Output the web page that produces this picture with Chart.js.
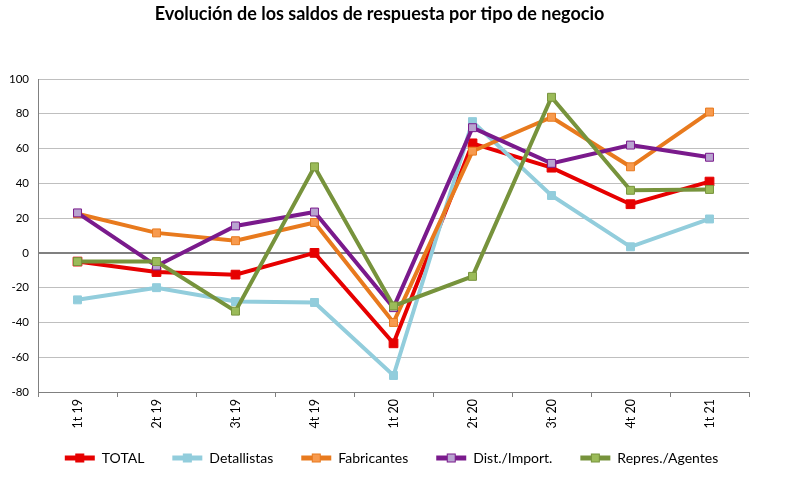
<!DOCTYPE html>
<html>
<head>
<meta charset="utf-8">
<script src="https://cdn.jsdelivr.net/npm/chart.js@4"></script>
<style>
  html, body { margin: 0; padding: 0; background: #ffffff; }
  #wrap { width: 800px; height: 499px; }
</style>
</head>
<body>
<div id="wrap"><canvas id="c" width="800" height="499"></canvas></div>
<script>
const categories = ["1t 19", "2t 19", "3t 19", "4t 19", "1t 20", "2t 20", "3t 20", "4t 20", "1t 21"];
const seriesNames = ["TOTAL", "Detallistas", "Fabricantes", "Dist./Import.", "Repres./Agentes"];
const total       = [-5, -11, -12.5, 0, -52, 63, 49, 28, 41];
const detallistas = [-27, -20, -28, -28.5, -70.5, 75.5, 33, 3.5, 19.5];
const fabricantes = [22.5, 11.5, 7, 17.5, -40, 58.5, 78, 49.5, 81];
const distImport  = [23, -7.5, 15.5, 23.5, -31.5, 72, 51.5, 62, 55];
const represAg    = [-5, -5, -33.5, 49.5, -30.5, -13.5, 89.5, 36, 36.5];
const yTicks = [-80, -60, -40, -20, 0, 20, 40, 60, 80, 100];
const titleText = "Evolución de los saldos de respuesta por tipo de negocio";

const seriesValues = [total, detallistas, fabricantes, distImport, represAg];
const lineColors   = ["#E60000", "#92CDDC", "#E87A1E", "#7A1A8C", "#77933C"];
const markerFill   = ["#E60000", "#92CDDC", "#F79A4E", "#B9A4D0", "#9BBB59"];
const markerBorder = ["#E60000", "#92CDDC", "#E87A1E", "#7A1A8C", "#77933C"];

const FONT = "Lato, 'Open Sans', sans-serif";

const datasets = seriesNames.map((name, i) => ({
  label: name,
  data: seriesValues[i],
  borderColor: lineColors[i],
  backgroundColor: lineColors[i],
  borderWidth: 4,
  pointStyle: 'rect',
  pointRadius: i === 0 ? 6.2 : 5.6,
  pointBackgroundColor: markerFill[i],
  pointBorderColor: markerBorder[i],
  pointBorderWidth: 1,
  tension: 0,
  fill: false,
  order: seriesNames.length - 1 - i
}));

const legendMarkers = {
  id: 'legendMarkers',
  afterLayout(chart) {
    const lg = chart.legend;
    if (lg) { lg.left += 17; lg.right += 17; lg.top -= 9; lg.bottom -= 9; }
    const tb = chart.titleBlock;
    if (tb) { tb.left += 5; tb.right += 5; }
  },
  afterDraw(chart) {
    const lg = chart.legend;
    if (!lg || !lg.legendHitBoxes) return;
    const ctx = chart.ctx;
    const bw = lg.options.labels.boxWidth;
    lg.legendHitBoxes.forEach((hb, k) => {
      const item = lg.legendItems[k];
      const i = item.datasetIndex;
      const cx = hb.left + bw / 2;
      const cy = hb.top + hb.height / 2;
      const s = 8;
      ctx.save();
      ctx.fillStyle = markerFill[i];
      ctx.strokeStyle = markerBorder[i];
      ctx.lineWidth = 1;
      ctx.fillRect(cx - s / 2, cy - s / 2, s, s);
      ctx.strokeRect(cx - s / 2, cy - s / 2, s, s);
      ctx.restore();
    });
  }
};

new Chart(document.getElementById('c'), {
  type: 'line',
  data: { labels: categories, datasets: datasets },
  plugins: [legendMarkers],
  options: {
    responsive: false,
    animation: false,
    layout: { padding: { left: 0, right: 51, top: 0, bottom: 15 } },
    plugins: {
      title: {
        display: true,
        text: titleText,
        color: '#000000',
        font: { family: FONT, size: 18, weight: 'bold' },
        padding: { top: 3, bottom: 54.4 }
      },
      legend: {
        position: 'bottom',
        labels: {
          boxWidth: 30,
          boxHeight: 5,
          padding: 28,
          color: '#000000',
          font: { family: FONT, size: 14 },
          sort: (a, b) => a.datasetIndex - b.datasetIndex,
          generateLabels: (chart) => chart.data.datasets.map((ds, i) => ({
            text: ds.label,
            fillStyle: lineColors[i],
            strokeStyle: lineColors[i],
            lineWidth: 0,
            hidden: false,
            datasetIndex: i
          }))
        }
      },
      tooltip: { enabled: false }
    },
    scales: {
      x: {
        offset: true,
        grid: {
          offset: true,
          drawOnChartArea: false,
          drawTicks: true,
          tickLength: 5,
          color: '#808080'
        },
        border: { display: true, color: '#808080', width: 1 },
        ticks: {
          minRotation: 90,
          maxRotation: 90,
          color: '#000000',
          padding: 2,
          font: { family: FONT, size: 12.5 }
        },
        afterFit: (s) => { s.height = 40; }
      },
      y: {
        min: -80,
        max: 100,
        afterBuildTicks: (s) => { s.ticks = yTicks.map(v => ({ value: v })); },
        grid: {
          drawTicks: false,
          color: (c) => (c.tick && c.tick.value === 0) ? '#808080' : '#BFBFBF',
          lineWidth: (c) => (c.tick && c.tick.value === 0) ? 2 : 1
        },
        border: { display: true, color: '#808080', width: 1 },
        ticks: {
          color: '#000000',
          padding: 9,
          font: { family: FONT, size: 11.5 }
        },
        afterFit: (s) => { s.width = 38; }
      }
    }
  }
});
</script>
</body>
</html>
